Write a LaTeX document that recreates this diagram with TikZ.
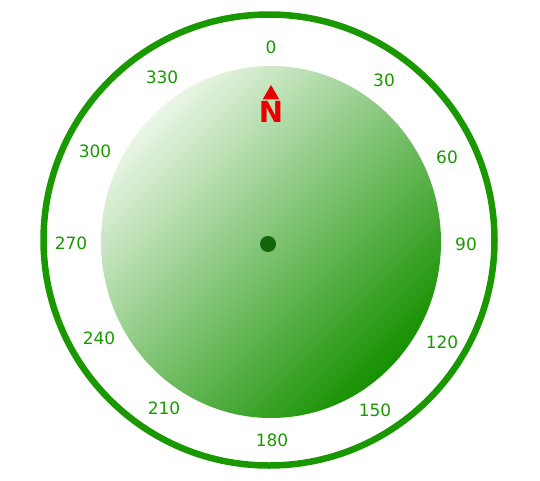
\documentclass[tikz,border=0pt]{standalone}
\usepackage{fontspec}
\setmainfont{DejaVu Sans}
\usetikzlibrary{shapes.geometric}

\definecolor{ringgreen}{RGB}{26,152,0}
\definecolor{dialdark}{RGB}{22,145,0}
\definecolor{diallight}{RGB}{234,246,231}
\definecolor{hubgreen}{RGB}{20,100,12}
\definecolor{needlered}{RGB}{230,0,0}

\begin{document}
\begin{tikzpicture}[
    x=1pt, y=-1pt,
    % compass face styles, all sizes in px of the 540x480 frame
    ring/.style={draw=ringgreen, line width=6.5pt},
    dial/.style={top color=diallight, bottom color=dialdark, shading angle=45},
    deg/.style={text=ringgreen, font=\fontsize{17}{20}\selectfont, inner sep=0pt},
    heading/.style={text=needlered, font=\fontsize{29}{33}\selectfont\bfseries, inner sep=0pt},
    marker/.style={regular polygon, regular polygon sides=3, fill=needlered, minimum size=19pt, inner sep=0pt},
    hubdot/.style={circle, fill=hubgreen, minimum size=16pt, inner sep=0pt}
  ]

  \useasboundingbox (0,0) rectangle (540,480);

  % outer rim and shaded face
  \draw[ring] (269,240) circle (225.5pt);
  \shade[dial] (271,242) ellipse [x radius=170pt, y radius=176pt];

  % bearing labels
  \node[deg] (d0)   at (271,47)  {0};
  \node[deg] (d30)  at (384,80)  {30};
  \node[deg] (d60)  at (447,157) {60};
  \node[deg] (d90)  at (466,244) {90};
  \node[deg] (d120) at (442,342) {120};
  \node[deg] (d150) at (375,410) {150};
  \node[deg] (d180) at (272,440) {180};
  \node[deg] (d210) at (164,408) {210};
  \node[deg] (d240) at (99,338)  {240};
  \node[deg] (d270) at (71,243)  {270};
  \node[deg] (d300) at (95,151)  {300};
  \node[deg] (d330) at (162,77)  {330};

  % north mark
  \node[heading] (north) at (271,112) {N};
  \node[marker] (tip) at (271,94.5) {};

  % centre
  \node[hubdot] (hub) at (268,244) {};

\end{tikzpicture}
\end{document}
